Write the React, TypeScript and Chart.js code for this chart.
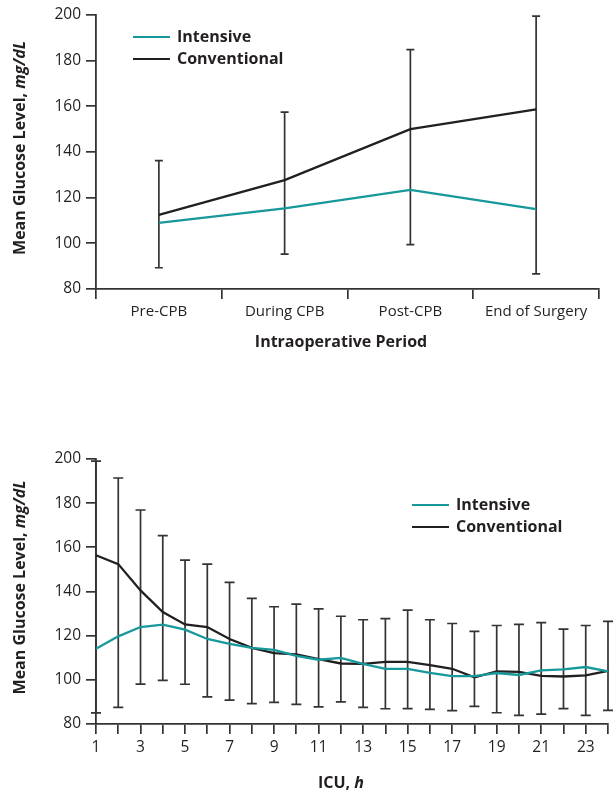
import React, { useEffect, useRef } from 'react';
import { Chart, registerables } from 'chart.js';

Chart.register(...registerables);

// ---------- data ----------
const periods = ['Pre-CPB', 'During CPB', 'Post-CPB', 'End of Surgery'];
const periodIntensive = [109, 115.3, 123.4, 115];
const periodConventional = [112.5, 127.7, 150, 158.7];
const periodErrUpper = [136.2, 157.5, 184.8, 199.5];
const periodErrLower = [89.3, 95.3, 99.4, 86.6];

const hours = [1, 2, 3, 4, 5, 6, 7, 8, 9, 10, 11, 12, 13, 14, 15, 16, 17, 18, 19, 20, 21, 22, 23, 24];
const icuIntensive = [114.1, 119.7, 123.9, 125, 122.7, 118.5, 116.3, 114.5, 113.6, 110.9, 109.1, 109.9, 107.2, 105, 105, 103.1, 101.7, 101.7, 103.1, 102.2, 104.3, 104.7, 105.8, 103.8];
const icuConventional = [156.4, 152.4, 140.5, 130.7, 125.1, 123.9, 118.5, 114.5, 112.1, 111.5, 109.4, 107.4, 107.2, 108.1, 108.1, 106.7, 105, 101.1, 103.8, 103.6, 101.8, 101.5, 102, 104.1];
const icuErrUpper = [199, 191.4, 176.9, 165.3, 154.2, 152.4, 144.1, 136.9, 133.1, 134.3, 132.1, 128.8, 127.2, 127.7, 131.6, 127.2, 125.5, 121.9, 124.6, 125.1, 125.9, 123, 124.6, 126.5];
const icuErrLower = [85, 87.5, 98.1, 99.8, 98, 92.3, 90.8, 89.2, 89.8, 88.9, 87.8, 90, 87.5, 86.9, 87, 86.6, 86.1, 88, 85.1, 83.9, 84.5, 87, 83.9, 86.2];

const yTicks = [80, 100, 120, 140, 160, 180, 200];
const seriesNames = ['Intensive', 'Conventional'];

// ---------- style ----------
const FONT = '"Open Sans", "Noto Sans", sans-serif';
const TEAL = '#17989b';
const BLACK = '#231f20';
const AXIS = '#333333';
const TXT = '#231f20';

type Seg = { t: string; italic?: boolean };

function drawMixed(ctx: CanvasRenderingContext2D, segs: Seg[], cx: number, cy: number, size: number, rotate: boolean) {
  ctx.save();
  ctx.translate(cx, cy);
  if (rotate) ctx.rotate(-Math.PI / 2);
  ctx.fillStyle = TXT;
  ctx.textBaseline = 'middle';
  ctx.textAlign = 'left';
  const fontOf = (s: Seg) => `${s.italic ? 'italic ' : ''}bold ${size}px ${FONT}`;
  let total = 0;
  segs.forEach((s) => {
    ctx.font = fontOf(s);
    total += ctx.measureText(s.t).width;
  });
  let x = -total / 2;
  segs.forEach((s) => {
    ctx.font = fontOf(s);
    ctx.fillText(s.t, x, 0);
    x += ctx.measureText(s.t).width;
  });
  ctx.restore();
}

function makeDecor(cfg: {
  upper: number[];
  lower: number[];
  cap: number;
  xTitle: Seg[];
  xTitleDx: number;
  xTitleY: number;
  legendDx: number;
  legendDy: number;
}) {
  return {
    id: 'decor',
    beforeDatasetsDraw(chart: any) {
      const { ctx, scales } = chart;
      const x = scales.x;
      const y = scales.y;
      ctx.save();
      ctx.strokeStyle = AXIS;
      ctx.lineWidth = 1.7;
      cfg.upper.forEach((u, i) => {
        const px = x.getPixelForValue(i);
        const top = y.getPixelForValue(u);
        const bot = y.getPixelForValue(cfg.lower[i]);
        ctx.beginPath();
        ctx.moveTo(px, top);
        ctx.lineTo(px, bot);
        ctx.moveTo(px - cfg.cap, top);
        ctx.lineTo(px + cfg.cap, top);
        ctx.moveTo(px - cfg.cap, bot);
        ctx.lineTo(px + cfg.cap, bot);
        ctx.stroke();
      });
      ctx.restore();
    },
    afterDraw(chart: any) {
      const { ctx, chartArea } = chart;
      drawMixed(
        ctx,
        [{ t: 'Mean Glucose Level, ' }, { t: 'mg/dL', italic: true }],
        20,
        (chartArea.top + chartArea.bottom) / 2 - 4,
        16,
        true
      );
      drawMixed(ctx, cfg.xTitle, chartArea.left + cfg.xTitleDx, cfg.xTitleY, 16, false);
      const colors = [TEAL, BLACK];
      seriesNames.forEach((name, i) => {
        const lx = chartArea.left + cfg.legendDx;
        const ly = chartArea.top + cfg.legendDy + i * 22;
        ctx.save();
        ctx.strokeStyle = colors[i];
        ctx.lineWidth = 2.2;
        ctx.beginPath();
        ctx.moveTo(lx, ly);
        ctx.lineTo(lx + 37, ly);
        ctx.stroke();
        ctx.fillStyle = TXT;
        ctx.font = `bold 16px ${FONT}`;
        ctx.textBaseline = 'middle';
        ctx.textAlign = 'left';
        ctx.fillText(name, lx + 44, ly);
        ctx.restore();
      });
    },
  };
}

function axisCommon() {
  return {
    grid: {
      display: true,
      drawOnChartArea: false,
      drawTicks: true,
      tickLength: 10,
      color: AXIS,
      lineWidth: 1.7,
    },
    border: { display: true, color: AXIS, width: 1.8 },
  };
}

function yAxis() {
  return {
    min: 80,
    max: 200,
    afterBuildTicks: (s: any) => {
      s.ticks = yTicks.map((v) => ({ value: v }));
    },
    ticks: { color: TXT, font: { family: FONT, size: 15.5 }, padding: 5 },
    ...axisCommon(),
    afterFit: (s: any) => {
      s.width = 96;
    },
  };
}

function lineDataset(label: string, data: number[], color: string) {
  return {
    label,
    data,
    borderColor: color,
    backgroundColor: color,
    borderWidth: 2.3,
    pointRadius: 0,
    tension: 0,
    fill: false,
  };
}

export default function App() {
  const topRef = useRef<HTMLCanvasElement>(null);
  const botRef = useRef<HTMLCanvasElement>(null);

  useEffect(() => {
    const c1 = new Chart(topRef.current as HTMLCanvasElement, {
      type: 'line',
      data: {
        labels: periods,
        datasets: [
          lineDataset(seriesNames[0], periodIntensive, TEAL),
          lineDataset(seriesNames[1], periodConventional, BLACK),
        ],
      },
      options: {
        responsive: false,
        animation: false,
        layout: { padding: { left: 0, top: 15, right: 14, bottom: 0 } },
        plugins: { legend: { display: false }, tooltip: { enabled: false } },
        scales: {
          x: {
            type: 'category',
            offset: true,
            ...axisCommon(),
            grid: { ...axisCommon().grid, offset: true },
            ticks: { color: TXT, font: { family: FONT, size: 15 }, padding: 4, maxRotation: 0, autoSkip: false },
            afterFit: (s: any) => {
              s.height = 101;
            },
          },
          y: yAxis(),
        },
      } as any,
      plugins: [
        makeDecor({
          upper: periodErrUpper,
          lower: periodErrLower,
          cap: 4,
          xTitle: [{ t: 'Intraoperative Period' }],
          xTitleDx: 245,
          xTitleY: 342,
          legendDx: 37,
          legendDy: 22,
        }),
      ],
    });

    const c2 = new Chart(botRef.current as HTMLCanvasElement, {
      type: 'line',
      data: {
        labels: hours.map(String),
        datasets: [
          lineDataset(seriesNames[0], icuIntensive, TEAL),
          lineDataset(seriesNames[1], icuConventional, BLACK),
        ],
      },
      options: {
        responsive: false,
        animation: false,
        layout: { padding: { left: 0, top: 59, right: 5, bottom: 0 } },
        plugins: { legend: { display: false }, tooltip: { enabled: false } },
        scales: {
          x: {
            type: 'category',
            offset: false,
            ...axisCommon(),
            ticks: {
              color: TXT,
              font: { family: FONT, size: 15.5 },
              padding: 4,
              maxRotation: 0,
              autoSkip: false,
              callback: (_v: any, i: number) => (hours[i] % 2 === 1 ? String(hours[i]) : ''),
            },
            afterFit: (s: any) => {
              s.height = 69;
            },
          },
          y: yAxis(),
        },
      } as any,
      plugins: [
        makeDecor({
          upper: icuErrUpper,
          lower: icuErrLower,
          cap: 5,
          xTitle: [{ t: 'ICU, ' }, { t: 'h', italic: true }],
          xTitleDx: 245,
          xTitleY: 383,
          legendDx: 316,
          legendDy: 46,
        }),
      ],
    });

    return () => {
      c1.destroy();
      c2.destroy();
    };
  }, []);

  return (
    <div style={{ position: 'absolute', left: 0, top: 0, width: 613, height: 793, background: '#fff' }}>
      <canvas ref={topRef} width={613} height={390} style={{ position: 'absolute', left: 0, top: 0, display: 'block' }} />
      <canvas ref={botRef} width={613} height={393} style={{ position: 'absolute', left: 0, top: 400, display: 'block' }} />
    </div>
  );
}
